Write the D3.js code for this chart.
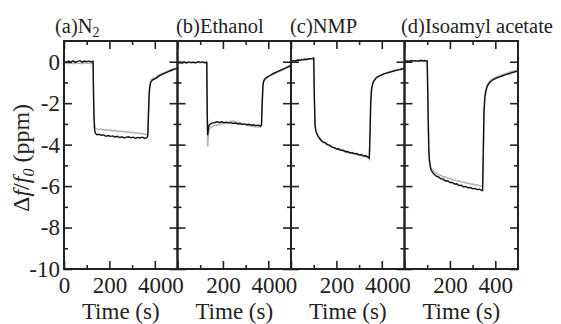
<!DOCTYPE html>
<html>
<head>
<meta charset="utf-8">
<script src="https://cdn.jsdelivr.net/npm/d3@7"></script>
<style>
  body { margin: 0; background: #fff; }
  text { font-family: "Liberation Serif", "Times New Roman", serif; fill: #222; }
</style>
</head>
<body>
<svg id="chart" width="561" height="324"></svg>
<script>
// tick values
const xMajor = [0, 200, 400];
const xMinor = [100, 300];
const yMajor = [0, -2, -4, -6, -8, -10];
const yMinor = [-1, -3, -5, -7, -9];

// (a) N2
const timeA = [0,10,20,30,40,50,60,70,80,90,100,110,120,128,131,134,138,
  145,155,165,175,185,195,205,215,225,235,245,255,265,275,285,295,305,315,325,335,345,355,365,
  369,372,375,378,382,388,395,405,415,425,435,445,455,465,475,485,495,500];
const blackA = [0.02,-0.03,0.03,-0.02,0.04,-0.03,0.02,0.05,-0.02,0.03,0.0,0.04,-0.01,
  0.02,-2.2,-3.2,-3.45,
  -3.52,-3.5,-3.55,-3.53,-3.6,-3.56,-3.6,-3.58,-3.63,-3.6,-3.66,-3.62,-3.68,-3.64,-3.62,-3.67,-3.64,-3.7,-3.65,-3.68,-3.64,-3.7,-3.66,
  -3.6,-2.6,-1.6,-1.2,-1.0,-0.9,
  -0.85,-0.8,-0.72,-0.65,-0.6,-0.55,-0.5,-0.45,-0.41,-0.37,-0.33,-0.31];
const grayA = [-0.08,-0.05,-0.1,-0.06,-0.09,-0.04,-0.08,-0.06,-0.1,-0.05,-0.08,-0.06,-0.09,
  -0.07,-2.0,-2.95,-3.2,
  -3.24,-3.27,-3.25,-3.3,-3.27,-3.32,-3.3,-3.34,-3.31,-3.36,-3.34,-3.38,-3.36,-3.4,-3.38,-3.42,-3.4,-3.45,-3.43,-3.47,-3.46,-3.5,-3.52,
  -3.45,-2.4,-1.5,-1.1,-0.92,-0.84,
  -0.79,-0.73,-0.66,-0.6,-0.55,-0.5,-0.46,-0.41,-0.37,-0.33,-0.3,-0.28];

// (b) Ethanol
const timeB = [0,10,20,30,40,50,60,70,80,90,100,110,120,129,131,133,136,140,
  145,155,165,175,185,195,205,215,225,235,245,255,265,275,285,295,305,315,325,335,345,355,365,
  370,373,376,379,383,390,400,410,420,430,440,450,460,470,480,490,500];
const blackB = [-0.08,-0.03,-0.06,-0.02,-0.05,-0.01,-0.04,-0.02,-0.05,0.0,-0.03,-0.01,-0.04,
  -0.03,-2.5,-3.55,-3.2,-3.05,
  -3.0,-2.95,-2.93,-2.9,-2.93,-2.9,-2.94,-2.92,-2.96,-2.94,-2.98,-2.96,-3.0,-2.98,-3.02,-3.0,-3.04,-3.02,-3.06,-3.04,-3.08,-3.06,-3.1,
  -3.05,-2.0,-1.2,-0.95,-0.85,-0.78,
  -0.7,-0.64,-0.58,-0.53,-0.48,-0.43,-0.38,-0.33,-0.28,-0.23,-0.18];
const grayB = [-0.1,-0.06,-0.08,-0.04,-0.07,-0.03,-0.06,-0.04,-0.07,-0.02,-0.05,-0.03,-0.06,
  -0.05,-2.8,-4.1,-3.5,-3.25,
  -3.18,-3.12,-3.08,-3.05,-3.02,-3.0,-2.96,-2.93,-2.9,-2.88,-2.86,-2.9,-2.92,-2.95,-2.98,-3.02,-3.05,-3.08,-3.1,-3.12,-3.14,-3.15,-3.16,
  -3.12,-2.1,-1.3,-1.02,-0.9,-0.82,
  -0.74,-0.68,-0.62,-0.56,-0.51,-0.46,-0.41,-0.36,-0.31,-0.26,-0.22];

// (c) NMP
const timeC = [0,10,20,30,40,50,60,70,80,90,100,103,106,110,115,120,
  130,140,150,160,170,180,190,200,210,220,230,240,250,260,270,280,290,300,310,320,330,340,
  345,348,351,355,360,365,372,380,390,400,410,420,430,440,450,460,470,480,490,500];
const blackC = [0.02,0.05,0.04,0.08,0.07,0.1,0.12,0.11,0.15,0.14,0.18,
  -1.8,-3.1,-3.35,-3.5,-3.6,
  -3.75,-3.87,-3.9,-4.0,-4.02,-4.12,-4.13,-4.21,-4.2,-4.27,-4.27,-4.34,-4.33,-4.4,-4.38,-4.44,-4.43,-4.5,-4.48,-4.55,-4.54,-4.6,
  -4.64,-3.5,-2.0,-1.3,-1.05,-0.92,-0.82,-0.74,
  -0.68,-0.63,-0.59,-0.55,-0.52,-0.49,-0.46,-0.43,-0.4,-0.38,-0.35,-0.33];
const grayC = [0.0,0.03,0.06,0.05,0.09,0.08,0.1,0.13,0.12,0.16,0.15,
  -1.7,-3.05,-3.35,-3.52,-3.63,
  -3.8,-3.86,-3.96,-3.99,-4.08,-4.1,-4.18,-4.19,-4.26,-4.26,-4.32,-4.33,-4.39,-4.38,-4.44,-4.44,-4.49,-4.49,-4.54,-4.55,-4.59,-4.62,
  -4.7,-3.7,-2.1,-1.35,-1.08,-0.94,-0.83,-0.75,
  -0.68,-0.62,-0.58,-0.54,-0.5,-0.47,-0.44,-0.41,-0.38,-0.35,-0.33,-0.31];

// (d) Isoamyl acetate
const timeD = [0,10,20,30,40,50,60,70,80,90,100,104,107,110,114,118,124,
  130,140,150,160,170,180,190,200,210,220,230,240,250,260,270,280,290,300,310,320,330,340,
  344,347,350,354,358,364,372,380,390,400,410,420,430,440,450,460,470,480,490,500];
const blackD = [0.0,0.04,0.02,0.06,0.03,0.05,0.02,0.07,0.04,0.06,0.03,
  -2.5,-4.3,-4.8,-5.1,-5.25,-5.35,
  -5.42,-5.52,-5.56,-5.65,-5.66,-5.75,-5.74,-5.83,-5.82,-5.9,-5.89,-5.97,-5.96,-6.04,-6.02,-6.08,-6.07,-6.13,-6.11,-6.17,-6.15,-6.21,
  -6.22,-4.5,-2.5,-1.7,-1.45,-1.2,-1.05,-0.95,
  -0.87,-0.82,-0.77,-0.73,-0.69,-0.65,-0.61,-0.58,-0.54,-0.51,-0.48,-0.45];
const grayD = [-0.03,0.0,0.03,0.0,0.04,0.02,0.05,0.01,0.05,0.02,0.04,
  -2.3,-4.1,-4.7,-5.0,-5.15,-5.25,
  -5.32,-5.38,-5.45,-5.48,-5.55,-5.56,-5.62,-5.63,-5.68,-5.7,-5.74,-5.75,-5.8,-5.8,-5.85,-5.86,-5.9,-5.9,-5.94,-5.95,-5.98,-6.0,
  -6.02,-4.4,-2.4,-1.6,-1.38,-1.13,-0.98,-0.89,
  -0.81,-0.76,-0.71,-0.67,-0.63,-0.59,-0.55,-0.52,-0.48,-0.45,-0.42,-0.39];

const panels = [
  { title: '(a)N', sub: '2', time: timeA, black: blackA, gray: grayA, tx: 55 },
  { title: '(b)Ethanol', time: timeB, black: blackB, gray: grayB, tx: 176 },
  { title: '(c)NMP', time: timeC, black: blackC, gray: grayC, tx: 290 },
  { title: '(d)Isoamyl acetate', time: timeD, black: blackD, gray: grayD, tx: 401 },
];

const marginLeft = 64, marginTop = 41, panelW = 113.5, plotH = 228;
const svg = d3.select('#chart');

const y = d3.scaleLinear().domain([-10, 1]).range([marginTop + plotH, marginTop]);
const x = d3.scaleLinear().domain([0, 500]).range([0, panelW]);

const line = d3.line()
  .x(d => x(d[0]))
  .y(d => y(d[1]));

function styleAxis(sel) {
  sel.attr('font-family', null).attr('font-size', 23).style('color', '#222');
  sel.select('.domain').remove();
  sel.selectAll('.tick line').attr('stroke-width', 1.6);
}

panels.forEach((p, i) => {
  const g = svg.append('g')
    .attr('transform', `translate(${marginLeft + i * panelW},0)`);

  const grayPts = p.time.map((t, k) => [t, p.gray[k]]);
  const blackPts = p.time.map((t, k) => [t, p.black[k]]);

  g.append('path').attr('d', line(grayPts))
    .attr('fill', 'none').attr('stroke', '#b3b3b3').attr('stroke-width', 1.5);
  g.append('path').attr('d', line(blackPts))
    .attr('fill', 'none').attr('stroke', '#111').attr('stroke-width', 1.4);

  const bottomY = marginTop + plotH;
  // bottom
  g.append('g').attr('transform', `translate(0,${bottomY})`)
    .call(d3.axisBottom(x).tickValues(xMajor).tickSize(-8).tickPadding(8).tickFormat(d => d))
    .call(styleAxis);
  g.append('g').attr('transform', `translate(0,${bottomY})`)
    .call(d3.axisBottom(x).tickValues(xMinor).tickSize(-4).tickFormat(''))
    .call(styleAxis);
  // top
  g.append('g').attr('transform', `translate(0,${marginTop})`)
    .call(d3.axisTop(x).tickValues(xMajor).tickSize(-8).tickFormat(''))
    .call(styleAxis);
  g.append('g').attr('transform', `translate(0,${marginTop})`)
    .call(d3.axisTop(x).tickValues(xMinor).tickSize(-4).tickFormat(''))
    .call(styleAxis);
  // left
  g.append('g')
    .call(d3.axisLeft(y).tickValues(yMajor).tickSize(-8).tickPadding(4)
      .tickFormat(i === 0 ? (d => String(d)) : ''))
    .call(styleAxis);
  g.append('g')
    .call(d3.axisLeft(y).tickValues(yMinor).tickSize(-4).tickFormat(''))
    .call(styleAxis);
  // right
  g.append('g').attr('transform', `translate(${panelW},0)`)
    .call(d3.axisRight(y).tickValues(yMajor).tickSize(-8).tickFormat(''))
    .call(styleAxis);
  g.append('g').attr('transform', `translate(${panelW},0)`)
    .call(d3.axisRight(y).tickValues(yMinor).tickSize(-4).tickFormat(''))
    .call(styleAxis);

  g.append('rect')
    .attr('x', 0).attr('y', marginTop)
    .attr('width', panelW).attr('height', plotH)
    .attr('fill', 'none').attr('stroke', '#222').attr('stroke-width', 2);

  g.append('text')
    .attr('x', panelW / 2).attr('y', 319)
    .attr('text-anchor', 'middle')
    .attr('font-size', 23)
    .text('Time (s)');

  const t = svg.append('text')
    .attr('x', p.tx).attr('y', 33)
    .attr('font-size', 20.5)
    .text(p.title);
  if (p.sub) {
    t.append('tspan').attr('font-size', 14).attr('dy', 4).text(p.sub);
  }
});

// y label
const yl = svg.append('text')
  .attr('transform', 'translate(29,158) rotate(-90)')
  .attr('text-anchor', 'middle')
  .attr('font-size', 24);
yl.append('tspan').text('Δ');
yl.append('tspan').attr('font-style', 'italic').text('f');
yl.append('tspan').text('/');
yl.append('tspan').attr('font-style', 'italic').text('f');
yl.append('tspan').attr('font-style', 'italic').attr('font-size', 16).attr('dy', 5).text('0');
yl.append('tspan').attr('dy', -5).text(' (ppm)');
</script>
</body>
</html>
